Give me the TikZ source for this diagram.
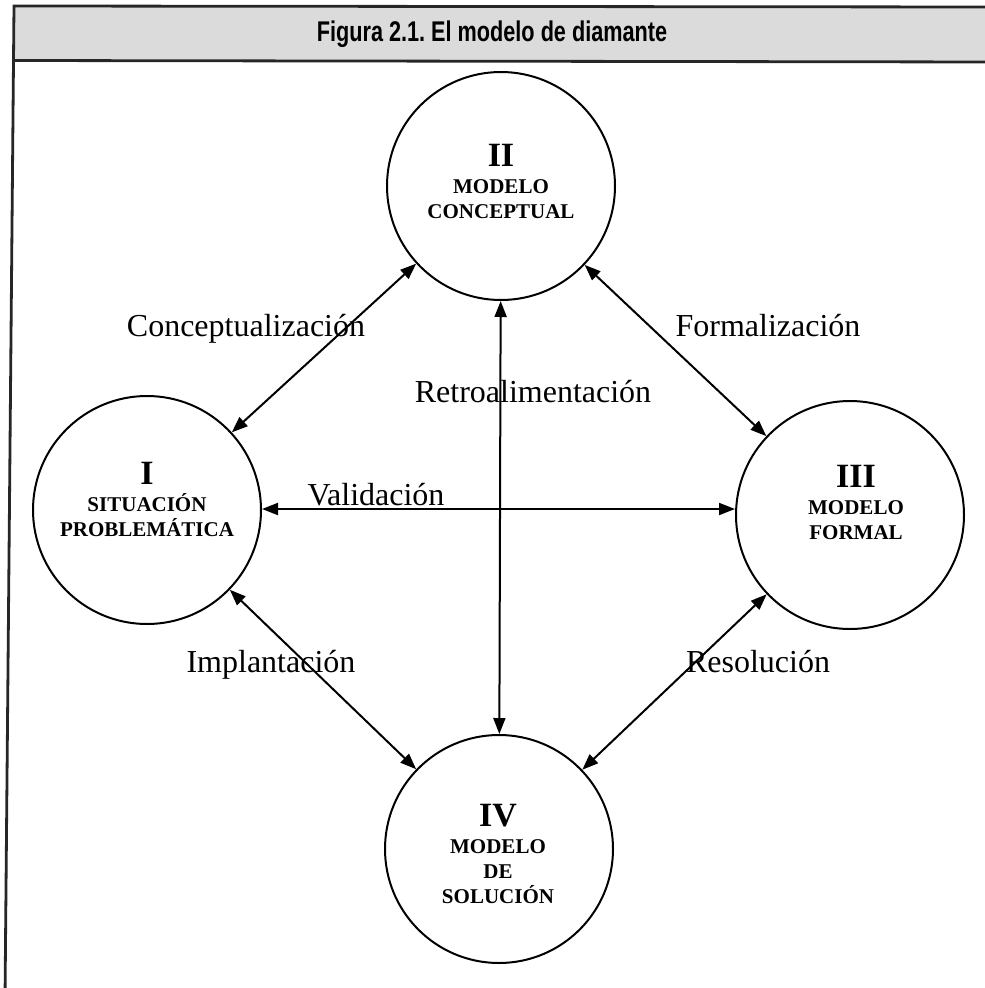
\documentclass[tikz,border=0pt]{standalone}
\usepackage{fontspec}
\setmainfont{Liberation Serif}
\newfontfamily\titlefont[FakeStretch=0.76]{Liberation Sans}
\usetikzlibrary{arrows.meta,calc}
\frenchspacing

\begin{document}
\begin{tikzpicture}[x=1pt,y=-1pt,
  stage/.style={circle,draw,line width=2pt,minimum size=228pt,inner sep=0pt},
  stagetext/.style={align=center,inner sep=0pt,
    font=\bfseries\fontsize{21}{25}\selectfont},
  flow/.style={line width=2pt,
    {Triangle[length=16pt,width=12pt]}-{Triangle[length=16pt,width=12pt]}},
  lbl/.style={font=\fontsize{32}{32}\selectfont,inner sep=0pt,anchor=base},
  framerule/.style={line width=2.8pt,black!85}
]
\useasboundingbox (0,0) rectangle (985,988);

% frame and shaded title bar
\begin{scope}
  \clip (0,0) rectangle (985,988);
  \fill[black!14] (14,6) -- (1000,7) -- (1000,62) -- (13.5,60.5) -- cycle;
  \draw[framerule] (5,1000) -- (14,6) -- (1000,7);
  \draw[framerule] (13.5,60.5) -- (1000,62);
\end{scope}
\node[font=\titlefont\bfseries\fontsize{28.5}{28.5}\selectfont] (title) at (492,34)
  {Figura 2.1. El modelo de diamante};

% the four stages
\node[stage] (s1) at (147,510) {};
\node[stage] (s2) at (501,186) {};
\node[stage] (s3) at (850,515) {};
\node[stage] (s4) at (499,849) {};

\node[stagetext] (t1) at ($(s1)+(0,-11)$)
  {{\fontsize{34}{34}\selectfont I}\\[2pt] SITUACIÓN\\ PROBLEMÁTICA};
\node[stagetext] (t2) at ($(s2)+(0,-5)$)
  {{\fontsize{34}{34}\selectfont II}\\[2pt] MODELO\\ CONCEPTUAL};
\node[stagetext] (t3) at ($(s3)+(6,-13)$)
  {{\fontsize{34}{34}\selectfont III}\\[2pt] MODELO\\ FORMAL};
\node[stagetext] (t4) at ($(s4)+(-1,5)$)
  {{\fontsize{34}{34}\selectfont IV}\\[2pt] MODELO\\ DE\\ SOLUCIÓN};

% connectors
\draw[flow] (s1) -- (s2);
\draw[flow] (s2) -- (s3);
\draw[flow] (s1) -- (s4);
\draw[flow] (s4) -- (s3);
\draw[flow] (s2) -- (s4);
\draw[flow] (s1.east |- 0,509) coordinate (v1) -- (s3.west |- 0,509) coordinate (v3);

% connector labels
\node[lbl] (l12) at (246,336) {Conceptualización};
\node[lbl] (l23) at (768,336) {Formalización};
\node[lbl] (l24) at (533,402) {Retroalimentación};
\node[lbl] (l13) at (376,505) {Validación};
\node[lbl] (l14) at (271,672) {Implantación};
\node[lbl] (l43) at (758,672) {Resolución};
\end{tikzpicture}
\end{document}
